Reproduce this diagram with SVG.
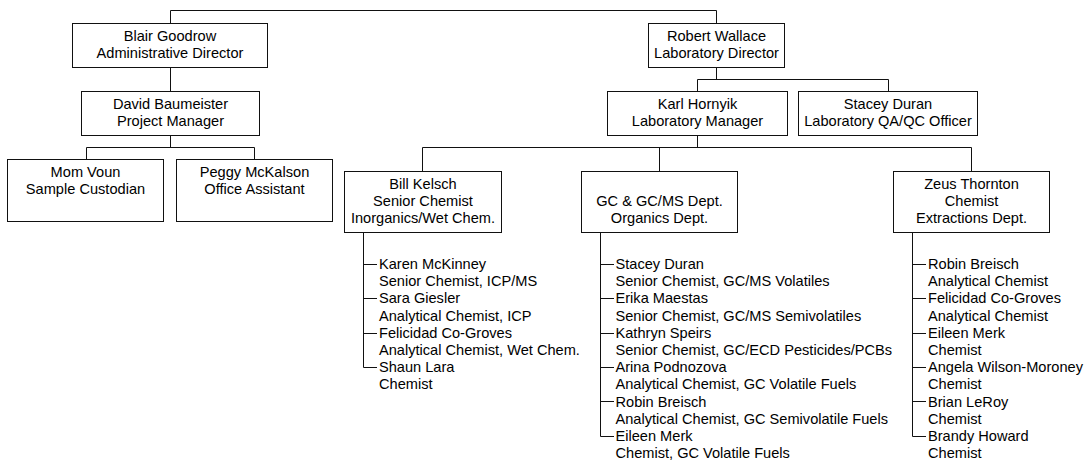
<svg xmlns="http://www.w3.org/2000/svg" width="1086" height="462" viewBox="0 0 1086 462">
<style>
  .box rect { fill: #fff; stroke: #111; stroke-width: 1; }
  text { font-family: "Liberation Sans", Arial, sans-serif; font-size: 14.6px; fill: #000; }
  .box text { text-anchor: middle; }
  .conn path { fill: none; stroke: #111; stroke-width: 1; }
</style>
<rect x="0" y="0" width="1086" height="462" fill="#fff"/>
<g class="conn" id="connectors">
  <path d="M170.5 23 V10.5 H716.5 V23"/>
  <path d="M170.5 67 V91"/>
  <path d="M170.5 135 V147.5 M86.5 159 V147.5 H254.5 V159"/>
  <path d="M716.5 67 V79.5 M697.5 91 V79.5 H888.5 V91"/>
  <path d="M697.5 135 V147.5 M422.5 171 V147.5 H971.5 V171 M659.5 147.5 V171"/>
  <path d="M363.5 232 V367.5 H377 M363.5 264.5 H377 M363.5 298.5 H377 M363.5 333.5 H377"/>
  <path d="M600.5 232 V436.5 H614 M600.5 264.5 H614 M600.5 298.5 H614 M600.5 333.5 H614 M600.5 367.5 H614 M600.5 401.5 H614"/>
  <path d="M912.5 232 V436.5 H926 M912.5 264.5 H926 M912.5 298.5 H926 M912.5 333.5 H926 M912.5 367.5 H926 M912.5 401.5 H926"/>
</g>
<g class="box" id="blair">
  <rect x="72.5" y="23.5" width="195" height="44"/>
  <text x="170" y="41">Blair Goodrow</text>
  <text x="170" y="58">Administrative Director</text>
</g>
<g class="box" id="robert">
  <rect x="648.5" y="23.5" width="136" height="44"/>
  <text x="716.5" y="41">Robert Wallace</text>
  <text x="716.5" y="58">Laboratory Director</text>
</g>
<g class="box" id="david">
  <rect x="81.5" y="91.5" width="178" height="44"/>
  <text x="170.5" y="109">David Baumeister</text>
  <text x="170.5" y="126">Project Manager</text>
</g>
<g class="box" id="karl">
  <rect x="607.5" y="91.5" width="180" height="44"/>
  <text x="697.5" y="109">Karl Hornyik</text>
  <text x="697.5" y="126">Laboratory Manager</text>
</g>
<g class="box" id="stacey">
  <rect x="798.5" y="91.5" width="179" height="44"/>
  <text x="888" y="109">Stacey Duran</text>
  <text x="888" y="126">Laboratory QA/QC Officer</text>
</g>
<g class="box" id="mom">
  <rect x="7.5" y="159.5" width="156" height="62"/>
  <text x="85.5" y="177">Mom Voun</text>
  <text x="85.5" y="194">Sample Custodian</text>
</g>
<g class="box" id="peggy">
  <rect x="176.5" y="159.5" width="156" height="62"/>
  <text x="254.5" y="177">Peggy McKalson</text>
  <text x="254.5" y="194">Office Assistant</text>
</g>
<g class="box" id="bill">
  <rect x="344.5" y="171.5" width="157" height="61"/>
  <text x="423" y="189">Bill Kelsch</text>
  <text x="423" y="206">Senior Chemist</text>
  <text x="423" y="223">Inorganics/Wet Chem.</text>
</g>
<g class="box" id="gc">
  <rect x="581.5" y="171.5" width="156" height="61"/>
  <text x="659.5" y="206">GC &amp; GC/MS Dept.</text>
  <text x="659.5" y="223">Organics Dept.</text>
</g>
<g class="box" id="zeus">
  <rect x="893.5" y="171.5" width="156" height="61"/>
  <text x="971.5" y="189">Zeus Thornton</text>
  <text x="971.5" y="206">Chemist</text>
  <text x="971.5" y="223">Extractions Dept.</text>
</g>
<g id="bill-staff">
  <text x="379" y="269">Karen McKinney</text>
  <text x="379" y="286.2">Senior Chemist, ICP/MS</text>
  <text x="379" y="303.4">Sara Giesler</text>
  <text x="379" y="320.6">Analytical Chemist, ICP</text>
  <text x="379" y="337.8">Felicidad Co-Groves</text>
  <text x="379" y="355">Analytical Chemist, Wet Chem.</text>
  <text x="379" y="372.2">Shaun Lara</text>
  <text x="379" y="389.4">Chemist</text>
</g>
<g id="gc-staff">
  <text x="615.5" y="269">Stacey Duran</text>
  <text x="615.5" y="286.2">Senior Chemist, GC/MS Volatiles</text>
  <text x="615.5" y="303.4">Erika Maestas</text>
  <text x="615.5" y="320.6">Senior Chemist, GC/MS Semivolatiles</text>
  <text x="615.5" y="337.8">Kathryn Speirs</text>
  <text x="615.5" y="355">Senior Chemist, GC/ECD Pesticides/PCBs</text>
  <text x="615.5" y="372.2">Arina Podnozova</text>
  <text x="615.5" y="389.4">Analytical Chemist, GC Volatile Fuels</text>
  <text x="615.5" y="406.6">Robin Breisch</text>
  <text x="615.5" y="423.8">Analytical Chemist, GC Semivolatile Fuels</text>
  <text x="615.5" y="441">Eileen Merk</text>
  <text x="615.5" y="458.2">Chemist, GC Volatile Fuels</text>
</g>
<g id="zeus-staff">
  <text x="928" y="269">Robin Breisch</text>
  <text x="928" y="286.2">Analytical Chemist</text>
  <text x="928" y="303.4">Felicidad Co-Groves</text>
  <text x="928" y="320.6">Analytical Chemist</text>
  <text x="928" y="337.8">Eileen Merk</text>
  <text x="928" y="355">Chemist</text>
  <text x="928" y="372.2">Angela Wilson-Moroney</text>
  <text x="928" y="389.4">Chemist</text>
  <text x="928" y="406.6">Brian LeRoy</text>
  <text x="928" y="423.8">Chemist</text>
  <text x="928" y="441">Brandy Howard</text>
  <text x="928" y="458.2">Chemist</text>
</g>
</svg>
